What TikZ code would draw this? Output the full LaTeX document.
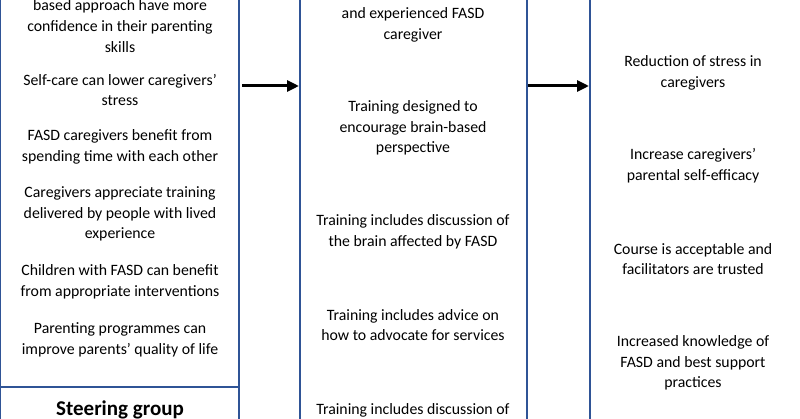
\documentclass[tikz,border=0pt]{standalone}
\usepackage{fontspec}
\setmainfont{Carlito}
\usetikzlibrary{arrows.meta}
\definecolor{bx}{RGB}{47,84,150}
\begin{document}
\begin{tikzpicture}[x=1pt,y=-1pt,
  t/.style={font=\fontsize{15.8}{20.6}\selectfont,align=center,inner sep=0pt,text=black},
  box/.style={draw=bx,line width=1.4pt},
  arr/.style={line width=3pt,-{Triangle[length=12pt,width=11pt]}}]
\useasboundingbox (0,0) rectangle (800,419);
\clip (0,0) rectangle (800,419);
\draw[box] (0,-20) rectangle (239,440);
\draw[box] (0,387) -- (239,387);
\draw[box] (300,-20) rectangle (527,440);
\draw[box] (590,-20) rectangle (820,440);
\coordinate (a1) at (242,86); \coordinate (a2) at (299,86);
\coordinate (b1) at (528,86); \coordinate (b2) at (589,86);
\draw[arr] (a1) -- (a2);
\draw[arr] (b1) -- (b2);
\node[t] (l1) at (120,26) {based approach have more\\confidence in their parenting\\skills};
\node[t] (l2) at (120,90) {Self-care can lower caregivers’\\stress};
\node[t] (l3) at (120,147) {FASD caregivers benefit from\\spending time with each other};
\node[t] (l4) at (120,214) {Caregivers appreciate training\\delivered by people with lived\\experience};
\node[t] (l5) at (120,282) {Children with FASD can benefit\\from appropriate interventions};
\node[t] (l6) at (120,340) {Parenting programmes can\\improve parents’ quality of life};
\node[t,font=\fontsize{21}{22}\selectfont\bfseries] (sg) at (120,410) {Steering group};
\node[t] (m1) at (413,25) {and experienced FASD\\caregiver};
\node[t] (m2) at (413,128) {Training designed to\\encourage brain-based\\perspective};
\node[t] (m3) at (413,232) {Training includes discussion of\\the brain affected by FASD};
\node[t] (m4) at (413,325) {Training includes advice on\\how to advocate for services};
\node[t] (m5) at (413,410) {Training includes discussion of};
\node[t] (r1) at (693,73) {Reduction of stress in\\caregivers};
\node[t] (r2) at (693,166) {Increase caregivers’\\parental self-efficacy};
\node[t] (r3) at (693,259) {Course is acceptable and\\facilitators are trusted};
\node[t] (r4) at (693,363) {Increased knowledge of\\FASD and best support\\practices};
\end{tikzpicture}
\end{document}
